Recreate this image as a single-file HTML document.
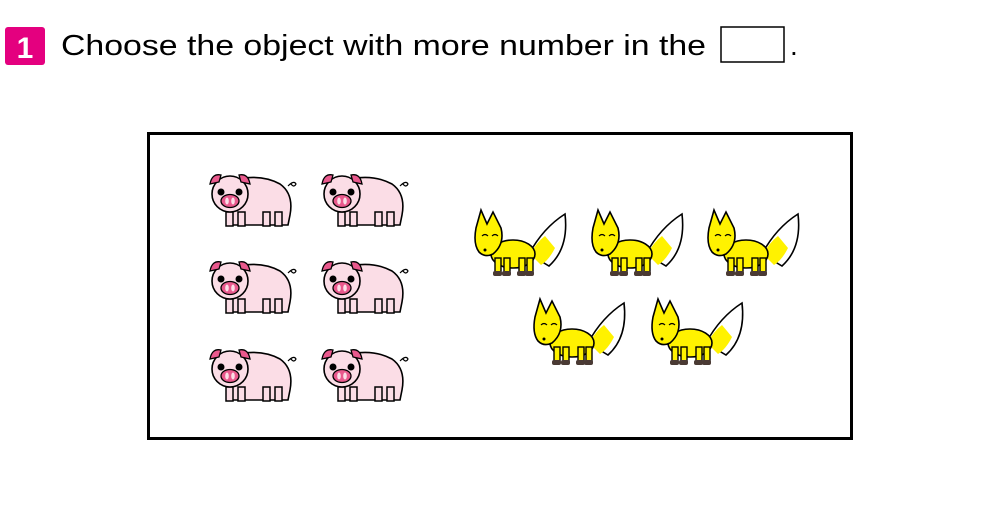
<!DOCTYPE html>
<html><head><meta charset="utf-8"><style>
body{margin:0;width:1000px;height:500px;background:#fff;overflow:hidden;font-family:"Liberation Sans","Noto Sans CJK JP",sans-serif}
</style></head><body>
<svg width="1000" height="500" viewBox="0 0 1000 500">
<defs>
<g id="pig">
 <path d="M18 12 Q50 2 72 14 Q86 24 82 45 L80 55 L20 55 Z" fill="#fbdde6" stroke="#000" stroke-width="1.6"/>
 <g fill="#fbdde6" stroke="#000" stroke-width="1.5">
  <rect x="18" y="42" width="7" height="14"/><rect x="30" y="42" width="7" height="14"/>
  <rect x="55" y="42" width="7" height="14"/><rect x="67" y="42" width="7" height="14"/>
 </g>
 <circle cx="22" cy="24" r="18" fill="#fbdde6" stroke="#000" stroke-width="1.6"/>
 <path d="M2 14 Q4 3 13 5 L11 12 Z" fill="#e9598d" stroke="#000" stroke-width="1.3"/>
 <path d="M42 14 Q40 3 31 5 L33 12 Z" fill="#e9598d" stroke="#000" stroke-width="1.3"/>
 <circle cx="13" cy="22" r="3.5" fill="#000"/><circle cx="31" cy="22" r="3.5" fill="#000"/>
 <ellipse cx="22" cy="31" rx="9" ry="6.5" fill="#e9598d" stroke="#000" stroke-width="1.3"/>
 <ellipse cx="19" cy="31" rx="1.8" ry="3.5" fill="#fbdde6"/><ellipse cx="25" cy="31" rx="1.8" ry="3.5" fill="#fbdde6"/>
 <path d="M80 16 Q86 10 88 14 Q86 18 83 14" fill="none" stroke="#000" stroke-width="1.2"/>
</g>
<g id="fox">
 <path d="M56 46 Q70 20 92 6 Q96 40 76 58 Z" fill="#fff" stroke="#000" stroke-width="1.6"/>
 <path d="M57 46 Q64 34 72 28 L82 40 Q76 52 68 57 Z" fill="#fff200"/>
 <ellipse cx="40" cy="46" rx="22" ry="14" fill="#fff200" stroke="#000" stroke-width="1.6"/>
 <g fill="#fff200" stroke="#000" stroke-width="1.4">
  <rect x="22" y="50" width="6" height="15"/><rect x="31" y="50" width="6" height="15"/>
  <rect x="46" y="50" width="6" height="15"/><rect x="54" y="50" width="6" height="15"/>
 </g>
 <g fill="#4a3a34"><rect x="20" y="63" width="9" height="5" rx="2"/><rect x="29" y="63" width="9" height="5" rx="2"/><rect x="44" y="63" width="9" height="5" rx="2"/><rect x="52" y="63" width="9" height="5" rx="2"/></g>
 <path d="M3 20 L8 2 L14 16 L20 4 L28 20 Q32 36 20 46 Q12 50 6 44 Q0 36 3 20 Z" fill="#fff200" stroke="#000" stroke-width="1.6"/>
 <path d="M9 28 q3 -3 6 0 M19 28 q3 -3 6 0" fill="none" stroke="#000" stroke-width="1.2"/>
 <circle cx="12" cy="42" r="1.5" fill="#000"/>
</g>
</defs>
<rect x="5" y="27" width="40" height="38" rx="3" fill="#e4007f"/>
<text x="25" y="58" font-size="30" font-weight="bold" fill="#fff" text-anchor="middle">1</text>
<text x="61" y="55" font-size="29" fill="#000" textLength="645" lengthAdjust="spacingAndGlyphs">Choose the object with more number in the</text>
<rect x="721" y="27" width="63" height="35" fill="#fff" stroke="#000" stroke-width="1.5"/>
<text x="790" y="55" font-size="28">.</text>
<rect x="148.5" y="133.5" width="703" height="305" fill="none" stroke="#000" stroke-width="3"/>
<use href="#pig" x="208" y="170"/>
<use href="#pig" x="320" y="170"/>
<use href="#pig" x="208" y="257"/>
<use href="#pig" x="320" y="257"/>
<use href="#pig" x="208" y="345"/>
<use href="#pig" x="320" y="345"/>
<use href="#fox" x="473" y="208"/>
<use href="#fox" x="590" y="208"/>
<use href="#fox" x="706" y="208"/>
<use href="#fox" x="532" y="297"/>
<use href="#fox" x="650" y="297"/>
</svg>
</body></html>
